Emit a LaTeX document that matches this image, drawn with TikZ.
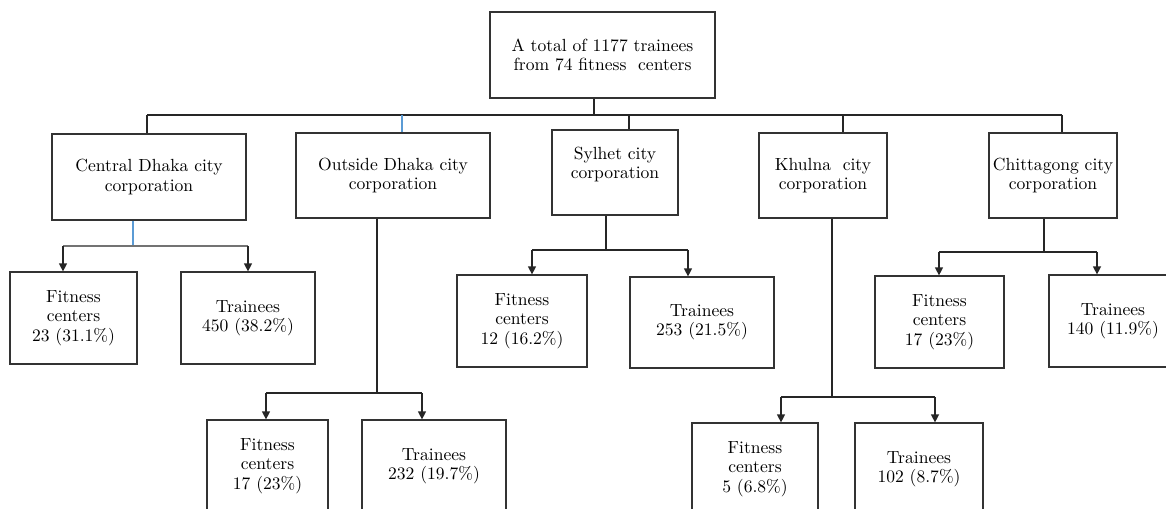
\documentclass[tikz,border=0pt]{standalone}
\usepackage{tikz}
\usetikzlibrary{arrows.meta, calc}
\definecolor{lineblue}{HTML}{5B9BD5}

\begin{document}
\begin{tikzpicture}[
  x=0.02cm,
  y=-0.02cm,
  every node/.style={font=\fontsize{10}{11}\selectfont},
  box/.style 2 args={draw=black!80, line width=0.7pt, align=center, inner sep=0pt,
    minimum width=#1*0.02cm, minimum height=#2*0.02cm},
  link/.style={draw=black!85, line width=0.7pt},
  bluelink/.style={draw=lineblue, line width=0.7pt},
  arr/.style={link, -{Triangle[length=4.5pt, width=4.5pt]}}
  ]
    % frame
    \useasboundingbox (0,0) rectangle (1166,508);
    \clip (0,0) rectangle (1166,508);

    % top
    \node[box={225}{86}] (total) at (602.5,55) {A total of 1177 trainees\\from 74 fitness\ \ centers};

%5 city corporations
\node[box={194}{86}] (cdhaka) at (149,177) {Central Dhaka city\\corporation};
\node[box={194}{85}] (odhaka) at (393,175.5) {Outside Dhaka city\\corporation};
\node[box={126}{85}] (sylhet) at (615,172.5) {Sylhet city\\corporation\\\mbox{}};
\node[box={128}{85}] (khulna) at (823,175.5) {Khulna\ \ city\\corporation};
\node[box={128}{85}] (ctg) at (1053,175.5) {Chittagong city\\corporation};

% fitness centers / trainees
\node[box={127}{92}] (cdF) at (73.5,318) {Fitness\\centers\\23 (31.1\%)};
\node[box={134}{92}] (cdT) at (248,318) {Trainees\\450 (38.2\%)};

\node[box={121}{92}] (odF) at (267.5,466) {Fitness\\centers\\17 (23\%)};
\node[box={144}{92}] (odT) at (434,466) {Trainees\\232 (19.7\%)};

\node[box={130}{92}] (sylF) at (522,321) {Fitness\\centers\\12 (16.2\%)};
\node[box={144}{91}] (sylT) at (702,322.5) {Trainees\\253 (21.5\%)};

\node[box={126}{92}] (khuF) at (755,469) {Fitness\\centers\\5 (6.8\%)};
\node[box={128}{92}] (khuT) at (919,469) {Trainees\\102 (8.7\%)};

\node[box={129}{92}] (ctgF) at (939.5,322) {Fitness\\centers\\17 (23\%)};
\node[box={128}{92}] (ctgT) at (1113,321) {Trainees\\140 (11.9\%)};

%%%%%%%%%%  bus from the top box
\coordinate (bus) at (594,115);
\coordinate (busL) at (147,115);
\coordinate (busR) at (1062,115);
\coordinate (bOD) at (402,115);
\coordinate (bSY) at (629,115);
\coordinate (bKH) at (843,115);

\draw[link, line width=1.1pt] (bus |- total.south) -- (bus);
\draw[link] (busL) -- (busR);
\draw[link] (busL) -- (busL |- cdhaka.north);
\draw[bluelink] (bOD) -- (bOD |- odhaka.north);
\draw[link] (bSY) -- (bSY |- sylhet.north);
\draw[link] (bKH) -- (bKH |- khulna.north);
\draw[link] (busR) -- (busR |- ctg.north);

%%%%%%%%%%  branches down to the boxes

% Central Dhaka
\coordinate (cdJ) at (133,246);
\coordinate (cdL) at (63,246);
\coordinate (cdR) at (248,246);
\draw[bluelink] (cdJ |- cdhaka.south) -- (cdJ);
\draw[link, draw=black!55] (cdL) -- (cdR);
\draw[arr] (cdL) -- (cdL |- cdF.north);
\draw[arr] (cdR) -- (cdR |- cdT.north);

% Outside Dhaka
\coordinate (odJ) at (377,393);
\coordinate (odL) at (266,393);
\coordinate (odR) at (422,393);
\draw[link] (odJ |- odhaka.south) -- (odJ);
\draw[link] (odL) -- (odR);
\draw[arr] (odL) -- (odL |- odF.north);
\draw[arr] (odR) -- (odR |- odT.north);

% Sylhet
\coordinate (syJ) at (606,250);
\coordinate (syL) at (532,250);
\coordinate (syR) at (688,250);
\draw[link] (syJ |- sylhet.south) -- (syJ);
\draw[link] (syL) -- (syR);
\draw[arr] (syL) -- (syL |- sylF.north);
\draw[arr] (syR) -- (syR |- sylT.north);

% Khulna
\coordinate (khJ) at (832,397);
\coordinate (khL) at (781,397);
\coordinate (khR) at (935,397);
\draw[link] (khJ |- khulna.south) -- (khJ);
\draw[link] (khL) -- (khR);
\draw[arr] (khL) -- (khL |- khuF.north);
\draw[arr] (khR) -- (khR |- khuT.north);

% Chittagong
\coordinate (ctJ) at (1044,252);
\coordinate (ctL) at (939,252);
\coordinate (ctR) at (1097,252);
\draw[link] (ctJ |- ctg.south) -- (ctJ);
\draw[link] (ctL) -- (ctR);
\draw[arr] (ctL) -- (ctL |- ctgF.north);
\draw[arr] (ctR) -- (ctR |- ctgT.north);

\end{tikzpicture}
\end{document}
